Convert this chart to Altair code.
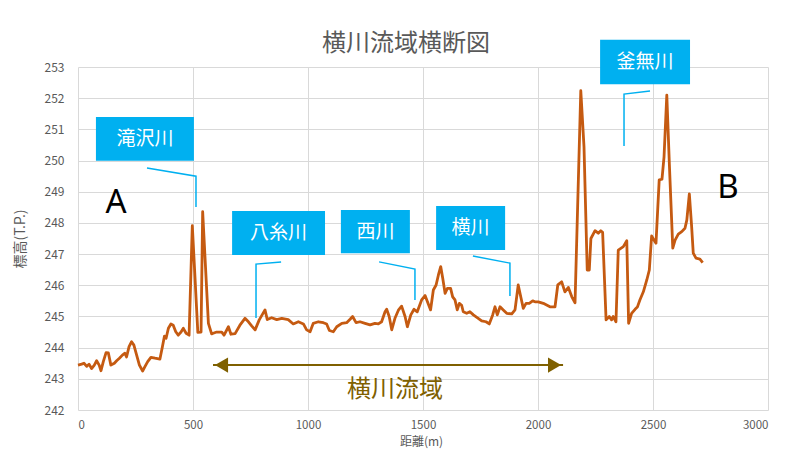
import altair as alt
import pandas as pd

# ---- profile data (distance m, elevation T.P.) ----
dist = [0, 16, 26, 38, 48, 59, 71, 81, 92, 100, 110, 122, 132, 143, 158, 168, 180, 193, 204, 211,
        222, 233, 243, 255, 267, 281, 291, 303, 317, 335, 356, 367, 376, 383, 393, 404, 414, 425, 436, 448,
        458, 470, 483, 497, 521, 535, 542, 567, 581, 588, 603, 625, 635, 654, 665, 683, 704, 726, 741, 755,
        770, 788, 813, 823, 842, 864, 886, 914, 936, 958, 980, 994, 1009, 1023, 1045, 1067, 1081, 1093, 1110, 1125,
        1147, 1168, 1183, 1194, 1209, 1226, 1248, 1270, 1291, 1306, 1320, 1335, 1342, 1353, 1364, 1378, 1393, 1407, 1422, 1432,
        1447, 1461, 1475, 1494, 1509, 1533, 1545, 1557, 1567, 1577, 1586, 1596, 1606, 1620, 1629, 1639, 1649, 1658, 1668, 1675,
        1690, 1704, 1719, 1740, 1755, 1774, 1788, 1803, 1813, 1823, 1835, 1849, 1864, 1886, 1900, 1914, 1925, 1936, 1948, 1962,
        1977, 1987, 2001, 2023, 2052, 2074, 2086, 2103, 2117, 2132, 2147, 2161, 2186, 2200, 2214, 2223, 2230, 2248, 2262, 2273,
        2281, 2296, 2310, 2320, 2327, 2339, 2349, 2371, 2386, 2394, 2407, 2422, 2432, 2443, 2458, 2473, 2484, 2494, 2504, 2513,
        2527, 2539, 2548, 2560, 2571, 2586, 2596, 2610, 2625, 2639, 2647, 2658, 2668, 2675, 2687, 2704, 2716]
elev = [243.44, 243.47, 243.50, 243.40, 243.47, 243.33, 243.44, 243.58, 243.44, 243.26, 243.55, 243.84, 243.83, 243.44, 243.50, 243.58, 243.66, 243.76, 243.82, 243.70,
        244.03, 244.19, 244.08, 243.76, 243.44, 243.25, 243.39, 243.55, 243.69, 243.66, 243.63, 244.03, 244.37, 244.30, 244.62, 244.76, 244.72, 244.51, 244.40, 244.50,
        244.62, 244.46, 244.40, 247.91, 244.49, 244.50, 248.36, 244.78, 244.44, 244.46, 244.50, 244.50, 244.40, 244.67, 244.43, 244.45, 244.72, 244.94, 244.83, 244.70,
        244.57, 244.89, 245.21, 244.90, 244.96, 244.90, 244.94, 244.90, 244.76, 244.83, 244.76, 244.57, 244.51, 244.78, 244.83, 244.80, 244.76, 244.55, 244.51, 244.67,
        244.78, 244.80, 244.91, 245.00, 244.80, 244.83, 244.78, 244.73, 244.78, 244.76, 244.83, 245.15, 245.23, 245.00, 244.57, 244.94, 245.20, 245.33, 245.00, 244.67,
        245.05, 245.23, 245.15, 245.53, 245.67, 245.21, 245.85, 246.01, 246.33, 246.60, 246.22, 245.74, 245.90, 245.90, 245.63, 245.53, 245.21, 245.42, 245.36, 245.15,
        245.10, 245.15, 245.05, 244.94, 244.86, 244.83, 244.76, 245.05, 245.31, 245.05, 245.31, 245.21, 245.10, 245.08, 245.21, 246.01, 245.63, 245.26, 245.42, 245.42,
        245.50, 245.47, 245.47, 245.42, 245.31, 245.31, 246.01, 246.11, 245.79, 245.93, 245.63, 245.44, 252.24, 250.44, 246.49, 246.49, 247.50, 247.75, 247.67, 247.75,
        247.70, 244.89, 245.00, 244.89, 245.00, 244.83, 247.13, 247.24, 247.43, 244.78, 245.10, 245.23, 245.30, 245.53, 245.79, 246.17, 246.49, 247.58, 247.45, 247.35,
        249.38, 249.40, 250.12, 252.10, 249.91, 247.19, 247.45, 247.64, 247.72, 247.83, 248.09, 248.93, 247.88, 247.03, 246.87, 246.84, 246.73]

# ---- axis ticks ----
x_ticks = [0, 500, 1000, 1500, 2000, 2500, 3000]
y_ticks = list(range(242, 254))

# ---- callout annotations (data units) ----
callout_names = ["滝沢川", "八糸川", "西川", "横川", "釜無川"]
box_x1 = [78, 670, 1143, 1557, 2270]
box_x2 = [504, 1074, 1443, 1857, 2661]
box_y1 = [249.99, 246.97, 247.03, 247.13, 252.45]
box_y2 = [251.40, 248.38, 248.41, 248.54, 253.87]
label_x = [291, 872, 1293, 1707, 2465]
label_y = [250.69, 247.68, 247.72, 247.84, 253.16]
# leader lines: three points each
lead_x = [[300, 513, 513], [883, 774, 774], [1309, 1465, 1465], [1717, 1878, 1878], [2487, 2374, 2374]]
lead_y = [[249.76, 249.50, 248.51], [246.75, 246.68, 244.95], [246.75, 246.52, 245.53],
          [246.94, 246.71, 245.66], [252.23, 252.13, 250.47]]

# ---- other annotations ----
title_text = "横川流域横断図"
title_pos = (1426, 253.74)
ends = ["A", "B"]
ends_x = [165, 2826]
ends_y = [248.64, 249.12]
arrow_x = [587, 2109]
arrow_head_x = [624, 2072]
arrow_y = 243.44
basin_label = "横川流域"
basin_pos = (1378, 242.64)

FONT = "Noto Sans CJK JP"
LINE_COLOR = "#C55A11"
CALLOUT = "#00B0F0"
OLIVE = "#7F6000"

xs = alt.Scale(domain=[0, 3000], nice=False, zero=False)
ys = alt.Scale(domain=[242, 253], nice=False, zero=False)

df = pd.DataFrame({"x": dist, "y": elev})

line = alt.Chart(df).mark_line(color=LINE_COLOR, strokeWidth=2.8, strokeJoin="round").encode(
    x=alt.X("x:Q", scale=xs, title="距離(m)",
            axis=alt.Axis(values=x_ticks, format="d", grid=True, gridColor="#d9d9d9", domain=False, ticks=False,
                          labelPadding=9, labelFont=FONT, labelFontSize=11.5, labelColor="#595959",
                          titleFont=FONT, titleFontSize=12, titleFontWeight="normal", titleColor="#595959",
                          titleX=343, titleY=31, titleAlign="center", titleBaseline="middle")),
    y=alt.Y("y:Q", scale=ys, title="標高(T.P.)",
            axis=alt.Axis(values=y_ticks, grid=True, gridColor="#d9d9d9", domain=False, ticks=False,
                          labelPadding=14, labelFont=FONT, labelFontSize=12, labelColor="#595959",
                          titleFont=FONT, titleFontSize=14, titleFontWeight="normal", titleColor="#595959",
                          titleX=-58, titleY=171.5, titleAngle=-90, titleAlign="center",
                          titleBaseline="middle")),
    order="x:Q",
)

boxes_df = pd.DataFrame({"name": callout_names, "x": box_x1, "x2": box_x2, "y": box_y1, "y2": box_y2,
                         "lx": label_x, "ly": label_y})
boxes = alt.Chart(boxes_df).mark_rect(color=CALLOUT).encode(
    x=alt.X("x:Q", scale=xs, axis=None), x2="x2:Q",
    y=alt.Y("y:Q", scale=ys, axis=None), y2="y2:Q",
)
box_text = alt.Chart(boxes_df).mark_text(color="white", font=FONT, fontSize=19).encode(
    x=alt.X("lx:Q", scale=xs, axis=None),
    y=alt.Y("ly:Q", scale=ys, axis=None),
    text="name:N",
)

lead_rows = []
for i, name in enumerate(callout_names):
    for j in range(3):
        lead_rows.append({"name": name, "k": j, "x": lead_x[i][j], "y": lead_y[i][j]})
leaders = alt.Chart(pd.DataFrame(lead_rows)).mark_line(color=CALLOUT, strokeWidth=1.5).encode(
    x=alt.X("x:Q", scale=xs, axis=None),
    y=alt.Y("y:Q", scale=ys, axis=None),
    detail="name:N",
    order="k:Q",
)

title_mark = alt.Chart(pd.DataFrame({"t": [title_text], "x": [title_pos[0]], "y": [title_pos[1]]})).mark_text(
    font=FONT, fontSize=24, color="#595959").encode(
    x=alt.X("x:Q", scale=xs, axis=None), y=alt.Y("y:Q", scale=ys, axis=None), text="t:N")

ends_mark = alt.Chart(pd.DataFrame({"t": ends, "x": ends_x, "y": ends_y})).mark_text(
    font="Noto Sans", fontSize=33, color="black").encode(
    x=alt.X("x:Q", scale=xs, axis=None), y=alt.Y("y:Q", scale=ys, axis=None), text="t:N")

arrow_rule = alt.Chart(pd.DataFrame({"x": [arrow_x[0]], "x2": [arrow_x[1]], "y": [arrow_y]})).mark_rule(
    color=OLIVE, strokeWidth=2).encode(
    x=alt.X("x:Q", scale=xs, axis=None), x2="x2:Q", y=alt.Y("y:Q", scale=ys, axis=None))

heads_df = pd.DataFrame({"x": arrow_head_x, "y": [arrow_y, arrow_y], "s": ["triangle-left", "triangle-right"]})
heads = alt.Chart(heads_df).mark_point(filled=True, opacity=1, color=OLIVE, size=230).encode(
    x=alt.X("x:Q", scale=xs, axis=None), y=alt.Y("y:Q", scale=ys, axis=None),
    shape=alt.Shape("s:N", scale=None, legend=None))

basin = alt.Chart(pd.DataFrame({"t": [basin_label], "x": [basin_pos[0]], "y": [basin_pos[1]]})).mark_text(
    font=FONT, fontSize=24, color=OLIVE).encode(
    x=alt.X("x:Q", scale=xs, axis=None), y=alt.Y("y:Q", scale=ys, axis=None), text="t:N")

chart = alt.layer(line, leaders, boxes, box_text, title_mark, ends_mark, arrow_rule, heads, basin).properties(
    width=690, height=343,
    autosize=alt.AutoSizeParams(type="none"),
    padding={"left": 70, "top": 59, "right": 20, "bottom": 39},
).resolve_axis(x="independent", y="independent").configure_view(strokeWidth=0)

chart.save("out.html", embed_options={"renderer": "svg", "actions": False})
